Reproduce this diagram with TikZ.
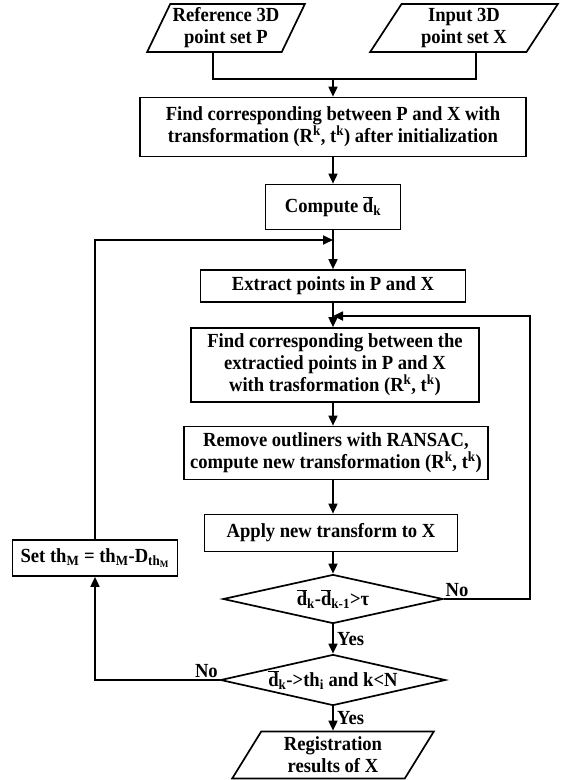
\documentclass[tikz,border=0pt]{standalone}
\usepackage{fontspec}
\setmainfont{Liberation Serif}[FakeStretch=0.93]
\usetikzlibrary{arrows.meta,shapes.geometric}
\newcommand\dbar{$\overline{\mbox{d}}$}
\begin{document}
\begin{tikzpicture}[x=1pt,y=-1pt,line width=1.7pt,
	font=\bfseries\fontsize{20}{22}\selectfont,
	box/.style={draw,rectangle,align=center,inner sep=2pt},
	io/.style={draw,trapezium,trapezium left angle=62,trapezium right angle=118,
		trapezium stretches=true,align=center,inner sep=1pt},
	test/.style={draw,diamond,aspect=4.5,inner sep=-2pt},
	arr/.style={-{Triangle[length=10pt,width=9pt]}}]
	\useasboundingbox (0,0) rectangle (566,780);
	% inputs
	\node[io,minimum width=158,minimum height=48] (pset) at (226,28) {Reference 3D\\point set P};
	\node[io,minimum width=188,minimum height=48] (xset) at (464,28) {Input 3D\\point set X};
	\coordinate (join) at (333,79);
	% main column
	\node[box,minimum width=386,minimum height=59] (init) at (333,127)
		{Find corresponding between P and X with\\transformation (R\textsuperscript{k}, t\textsuperscript{k}) after initialization};
	\node[box,minimum width=135,minimum height=45] (comp) at (333,207) {Compute \dbar\textsubscript{k}};
	\coordinate (loopin) at (333,240);
	\node[box,minimum width=265,minimum height=32] (extract) at (333,286) {Extract points in P and X};
	\coordinate (loopback) at (333,316);
	\node[box,minimum width=288,minimum height=74] (corr) at (335,365)
		{Find corresponding between the\\extractied points in P and X\\with trasformation (R\textsuperscript{k}, t\textsuperscript{k})};
	\node[box,minimum width=304,minimum height=53] (ransac) at (336,453)
		{Remove outliners with RANSAC,\\compute new transformation (R\textsuperscript{k}, t\textsuperscript{k})};
	\node[box,minimum width=253,minimum height=37] (apply) at (331,533) {Apply new transform to X};
	\node[test,minimum width=220,minimum height=49] (conv) at (333,599) {\dbar\textsubscript{k}-\dbar\textsubscript{k-1}>τ};
	\node[test,minimum width=225,minimum height=51] (stop) at (333,680) {\dbar\textsubscript{k}->th\textsubscript{i} and k<N};
	\node[io,minimum width=202,minimum height=47] (result) at (333,755) {Registration\\results of X};
	% side boxes and turns
	\node[box,minimum width=165,minimum height=36] (setth) at (95,558)
		{Set th\textsubscript{M} = th\textsubscript{M}-D\textsubscript{th\textsubscript{M}}};
	\coordinate (rside) at (530,316);
	% connectors
	\draw ([xshift=-13pt]pset.south) |- (join) -| ([xshift=12pt]xset.south);
	\draw[arr] (join) -- (init);
	\draw[arr] (init) -- (comp);
	\draw[arr] (comp) -- (extract);
	\draw[arr] (extract) -- (extract |- corr.north);
	\draw[arr] (extract |- corr.south) -- (extract |- ransac.north);
	\draw[arr] (extract |- ransac.south) -- (extract |- apply.north);
	\draw[arr] (extract |- apply.south) -- (conv);
	\draw[arr] (conv) -- node[right] (yes1) {Yes} (stop);
	\draw[arr] (stop) -- node[right] (yes2) {Yes} (result);
	\draw[arr] (conv.east) -| (rside) -- (loopback);
	\draw[arr] (stop.west) -| (setth.south);
	\draw[arr] (setth.north) |- (loopin);
	\node[anchor=south west,inner sep=1pt] (no1) at (conv.east) {No};
	\node[anchor=south east,inner sep=1pt] (no2) at (stop.west) {No};
\end{tikzpicture}
\end{document}
